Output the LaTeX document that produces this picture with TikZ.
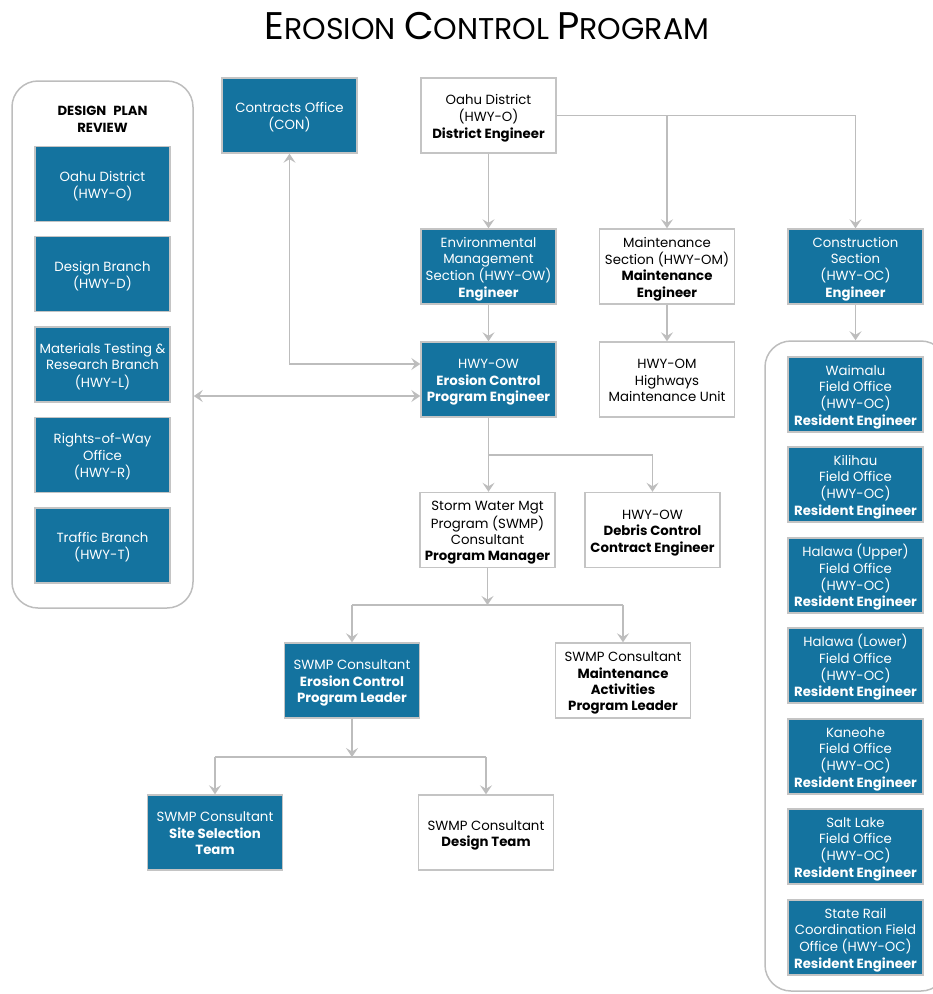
\documentclass[tikz,border=0pt]{standalone}
\usepackage{fontspec}
\setmainfont{Poppins}
\usetikzlibrary{arrows.meta}
\definecolor{ecblue}{HTML}{14739F}
\definecolor{boxgray}{HTML}{C4C4C4}
\definecolor{linegray}{HTML}{BDBDBD}
\newcommand{\boxfont}{\fontsize{13.3}{16.3}\selectfont}
\newcommand{\bx}[1]{\raisebox{-2.5pt}[\height][\depth]{\begin{tabular}{@{}c@{}}#1\end{tabular}}}
\tikzset{
  basebox/.style={draw=boxgray, line width=1.4pt, minimum width=135pt, minimum height=75pt, inner sep=0pt, font=\boxfont},
  bluebox/.style={basebox, fill=ecblue, text=white},
  whitebox/.style={basebox, fill=white, text=black},
  panel/.style={draw=linegray, line width=1.5pt, rounded corners=26pt, inner sep=0pt},
  conn/.style={draw=linegray, line width=1.9pt},
  arr/.style={conn, -{Stealth[length=9pt,width=12pt,inset=3.5pt]}},
  arrtwo/.style={conn, {Stealth[length=9pt,width=12pt,inset=3.5pt]}-{Stealth[length=9pt,width=12pt,inset=3.5pt]}}
}
\begin{document}
\begin{tikzpicture}[x=1pt,y=-1pt]
\useasboundingbox (0,0) rectangle (933,994);
% title
\node (title) at (487,26) {\fontsize{38.5}{38.5}\selectfont E\fontsize{30}{30}\selectfont ROSION \fontsize{38.5}{38.5}\selectfont C\fontsize{30}{30}\selectfont ONTROL \fontsize{38.5}{38.5}\selectfont P\fontsize{30}{30}\selectfont ROGRAM};
% panels
\node[panel, minimum width=181pt, minimum height=527pt] (dpr) at (102.5,344.5) {};
\node[panel, minimum width=182pt, minimum height=650pt] (rp) at (856,666) {};
\node[align=center, font=\fontsize{13.2}{17}\selectfont\bfseries] (dprlabel) at (102.5,119) {DESIGN\hspace{7pt}PLAN\\REVIEW};
% left list
\node[bluebox] (lo) at (102.5,184) {\bx{Oahu District\\(HWY-O)}};
\node[bluebox] (ld) at (102.5,274) {\bx{Design Branch\\(HWY-D)}};
\node[bluebox] (ll) at (102.5,364.5) {\bx{Materials Testing \&\\Research Branch\\(HWY-L)}};
\node[bluebox] (lr) at (102.5,455) {\bx{Rights-of-Way\\Office\\(HWY-R)}};
\node[bluebox] (lt) at (102.5,545.5) {\bx{Traffic Branch\\(HWY-T)}};
% top
\node[bluebox] (con) at (289.5,115.5) {\bx{Contracts Office\\(CON)}};
\node[whitebox] (oahu) at (488.5,115.5) {\bx{Oahu District\\(HWY-O)\\\textbf{District Engineer}}};
\node[bluebox] (env) at (488.5,266.5) {\bx{Environmental\\Management\\Section (HWY-OW)\\\textbf{Engineer}}};
\node[whitebox] (maint) at (667,266.5) {\bx{Maintenance\\Section (HWY-OM)\\\textbf{Maintenance}\\\textbf{Engineer}}};
\node[bluebox] (constr) at (855.5,266.5) {\bx{Construction\\Section\\(HWY-OC)\\\textbf{Engineer}}};
\node[bluebox] (ecp) at (488.5,379.5) {\bx{HWY-OW\\\textbf{Erosion Control}\\\textbf{Program Engineer}}};
\node[whitebox] (hom) at (667,379.5) {\bx{HWY-OM\\Highways\\Maintenance Unit}};
\node[whitebox] (storm) at (487.5,530) {\bx{Storm Water Mgt\\Program (SWMP)\\Consultant\\\textbf{Program Manager}}};
\node[whitebox] (debris) at (652.5,530) {\bx{HWY-OW\\\textbf{Debris Control}\\\textbf{Contract Engineer}}};
\node[bluebox] (ecpl) at (352,680.5) {\bx{SWMP Consultant\\\textbf{Erosion Control}\\\textbf{Program Leader}}};
\node[whitebox] (smaint) at (623,680.5) {\bx{SWMP Consultant\\\textbf{Maintenance}\\\textbf{Activities}\\\textbf{Program Leader}}};
\node[bluebox] (site) at (215,832.5) {\bx{SWMP Consultant\\\textbf{Site Selection}\\\textbf{Team}}};
\node[whitebox] (dteam) at (486,832.5) {\bx{SWMP Consultant\\\textbf{Design Team}}};
% field offices
\node[bluebox] (f1) at (855.5,394.5) {\bx{Waimalu\\Field Office\\(HWY-OC)\\\textbf{Resident Engineer}}};
\node[bluebox] (f2) at (855.5,484.5) {\bx{Kilihau\\Field Office\\(HWY-OC)\\\textbf{Resident Engineer}}};
\node[bluebox] (f3) at (855.5,575.5) {\bx{Halawa (Upper)\\Field Office\\(HWY-OC)\\\textbf{Resident Engineer}}};
\node[bluebox] (f4) at (855.5,665.5) {\bx{Halawa (Lower)\\Field Office\\(HWY-OC)\\\textbf{Resident Engineer}}};
\node[bluebox] (f5) at (855.5,756.5) {\bx{Kaneohe\\Field Office\\(HWY-OC)\\\textbf{Resident Engineer}}};
\node[bluebox] (f6) at (855.5,846.5) {\bx{Salt Lake\\Field Office\\(HWY-OC)\\\textbf{Resident Engineer}}};
\node[bluebox] (f7) at (855.5,937.5) {\bx{State Rail\\Coordination Field\\Office (HWY-OC)\\\textbf{Resident Engineer}}};
% connectors
\coordinate (j1) at (maint.north |- oahu.east);
\draw[arr] (oahu.south) -- (env.north);
\draw[arr] (oahu.east) -| (constr.north);
\draw[arr] (j1) -- (maint.north);
\draw[arr] (env.south) -- (ecp.north);
\draw[arr] (maint.south) -- (hom.north);
\draw[arr] (constr.south) -- (constr.south |- rp.north);
\draw[arrtwo] (con.south) |- (ecp.west |- 0,364);
\draw[arrtwo] (dpr.east |- 0,396) -- (ecp.west |- 0,396);
\coordinate (j2) at (ecp.south |- 0,455);
\draw[arr] (ecp.south) -- (ecp.south |- storm.north);
\draw[arr] (j2) -| (debris.north);
\coordinate (j3) at (storm.south |- 0,605);
\draw[arr] (storm.south) -- (j3);
\draw[conn] (ecpl.north |- j3) -- (smaint.north |- j3);
\draw[arr] (ecpl.north |- j3) -- (ecpl.north);
\draw[arr] (smaint.north |- j3) -- (smaint.north);
\coordinate (j4) at (ecpl.south |- 0,757);
\draw[arr] (ecpl.south) -- (j4);
\draw[conn] (site.north |- j4) -- (dteam.north |- j4);
\draw[arr] (site.north |- j4) -- (site.north);
\draw[arr] (dteam.north |- j4) -- (dteam.north);
\end{tikzpicture}
\end{document}
